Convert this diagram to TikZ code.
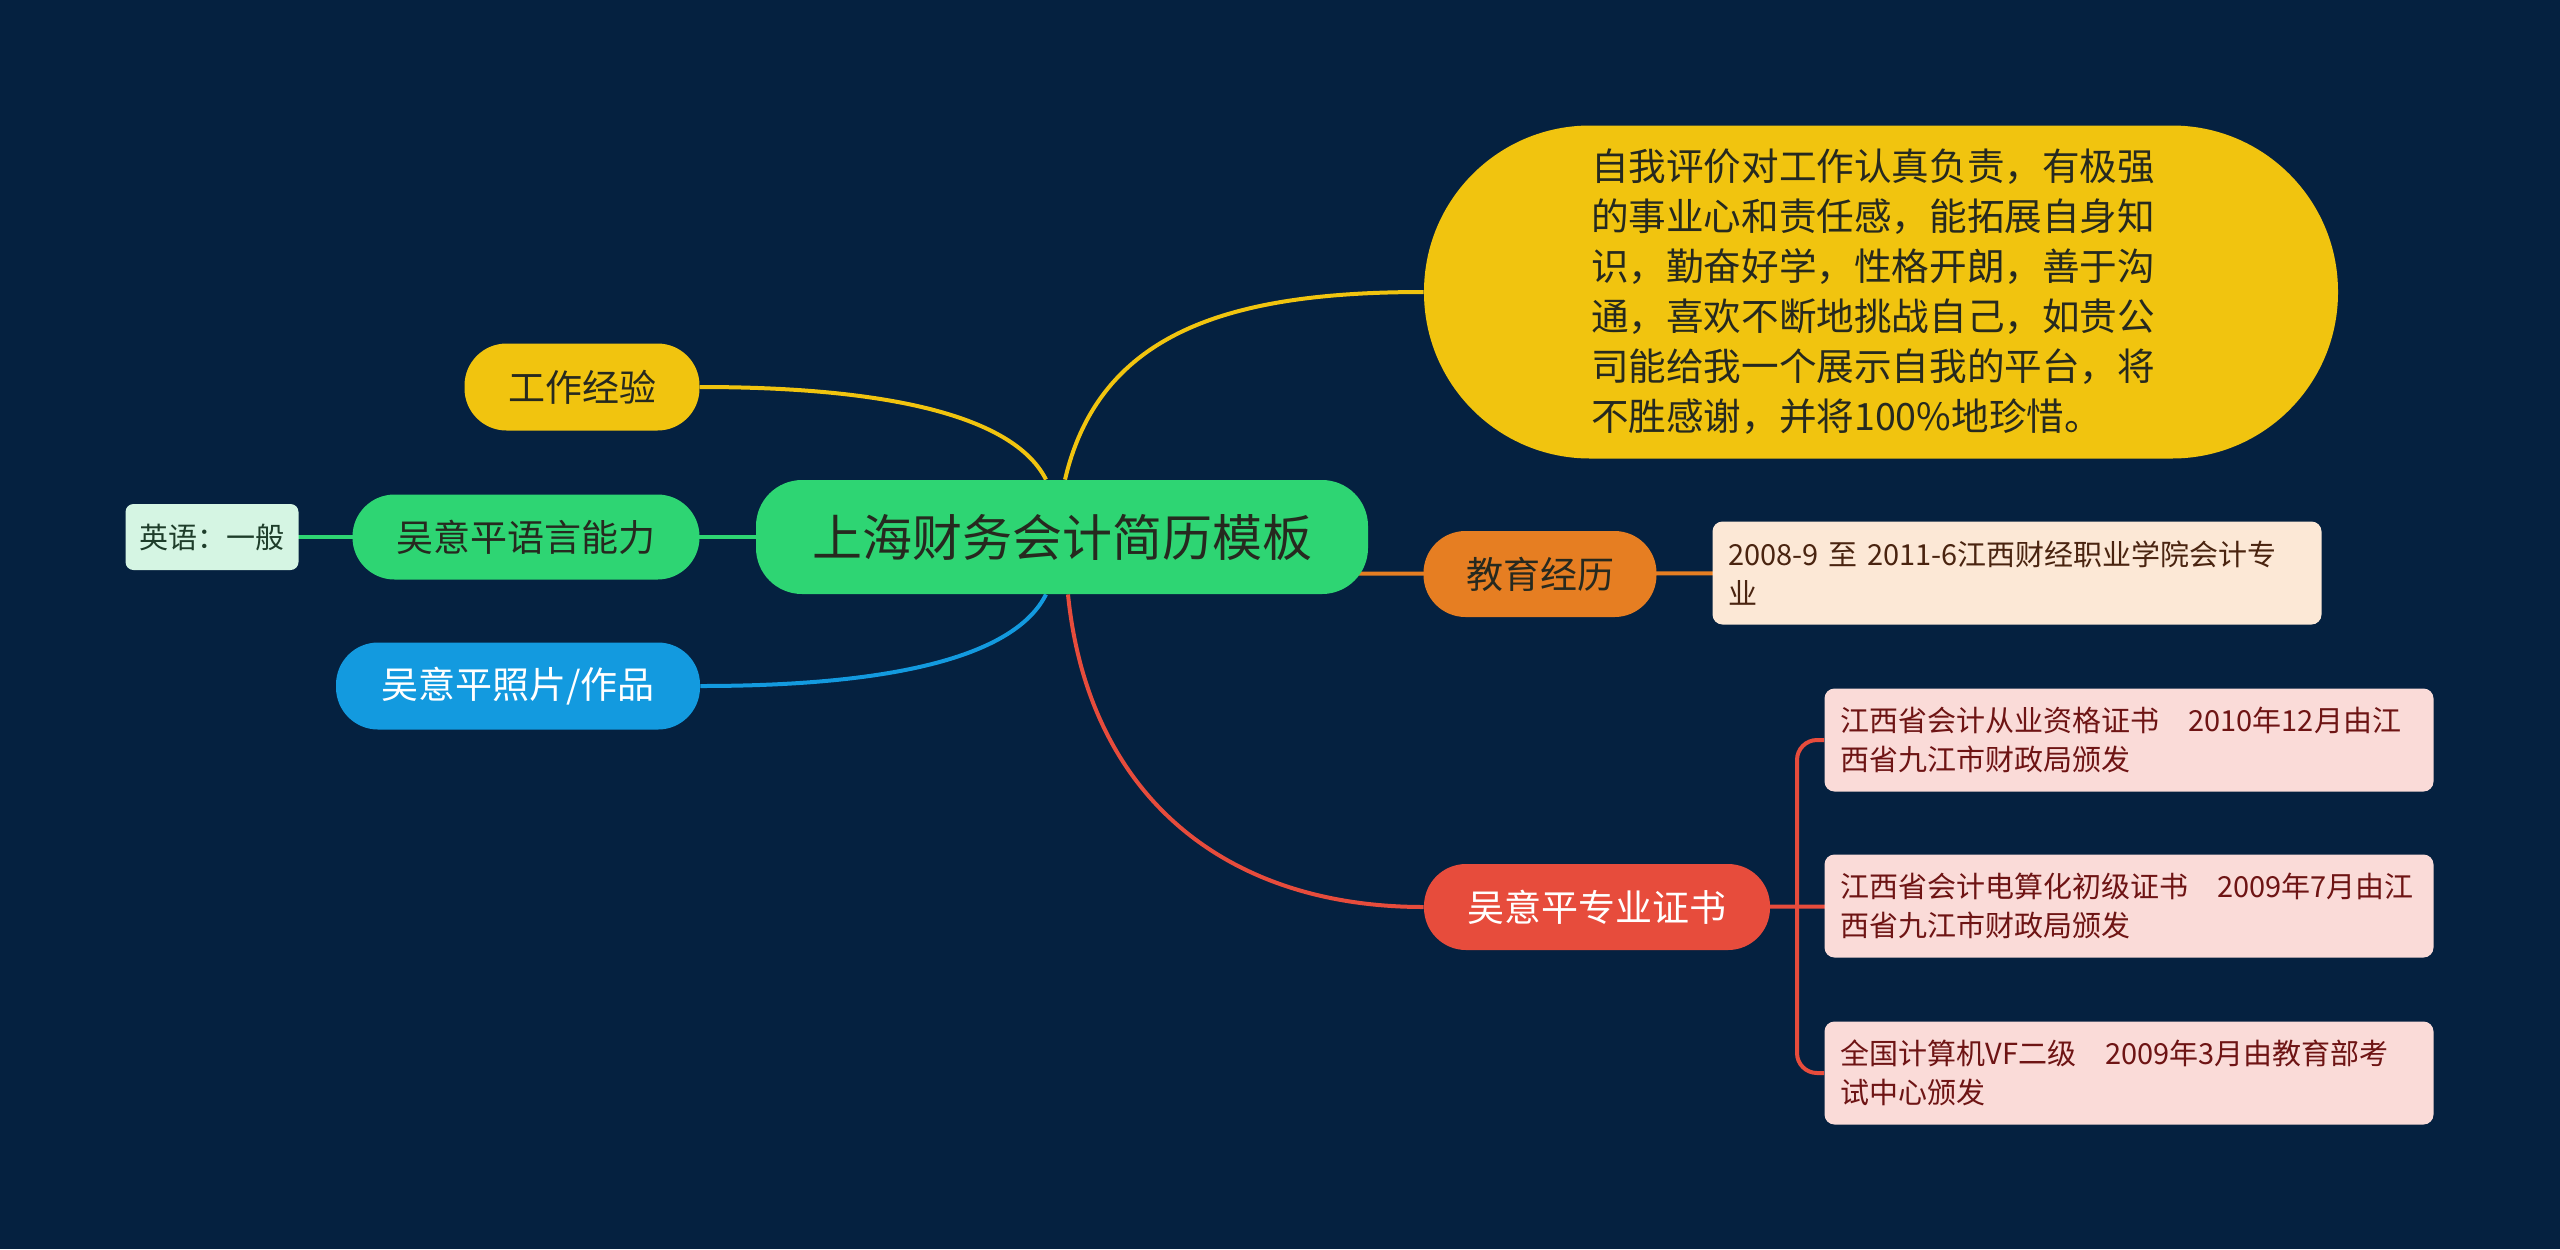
\documentclass[tikz,border=0pt]{standalone}
\usepackage{fontspec}
\setmainfont{Noto Sans CJK SC}
\usetikzlibrary{calc}
\pgfdeclarelayer{bg}
\pgfdeclarelayer{lines}
\pgfsetlayers{bg,lines,main}
\definecolor{cBg}{HTML}{052140}
\definecolor{cGreen}{HTML}{2ED573}
\definecolor{cYellow}{HTML}{F1C40F}
\definecolor{cBlue}{HTML}{139ADF}
\definecolor{cOrange}{HTML}{E67E22}
\definecolor{cRed}{HTML}{E74C3C}
\definecolor{cDark}{HTML}{26291F}
\definecolor{cEngFill}{HTML}{D5F5E3}
\definecolor{cEngText}{HTML}{1E3D2A}
\definecolor{cEduFill}{HTML}{FCE8D6}
\definecolor{cEduText}{HTML}{4A2410}
\definecolor{cCertFill}{HTML}{FADBD8}
\definecolor{cCertText}{HTML}{6E1414}
\begin{document}
\begin{tikzpicture}[x=0.5pt,y=-0.5pt,
  pill/.style={rounded corners=21pt, inner sep=0pt, align=center, font=\fontsize{18.5}{22}\selectfont},
  leaf/.style={rounded corners=5pt, inner xsep=8pt, inner ysep=0pt, align=left, minimum height=51.5pt, text width=288.5pt, font=\fontsize{14.5}{19.5}\selectfont},
  conn/.style={line width=2pt}
]
\useasboundingbox (0,0) rectangle (2560,1249);
\begin{pgfonlayer}{bg}
\fill[cBg] (0,0) rectangle (2560,1249);
\end{pgfonlayer}

% nodes
\node[pill, fill=cGreen, text=cDark, minimum width=306pt, minimum height=57pt, rounded corners=23pt, font=\fontsize{25}{30}\selectfont] (root) at (1062,537) {上海财务会计简历模板};
\node[pill, fill=cYellow, text=cDark, minimum width=117.5pt, minimum height=43.5pt] (work) at (582,387) {工作经验};
\node[pill, fill=cGreen, text=cDark, minimum width=173.5pt, minimum height=42.5pt] (lang) at (526,537) {吴意平语言能力};
\node[fill=cEngFill, text=cEngText, rounded corners=4pt, inner sep=0pt, minimum width=86.5pt, minimum height=33pt, font=\fontsize{14.5}{17}\selectfont] (eng) at (212,537) {英语：一般};
\node[pill, fill=cBlue, text=white, minimum width=182pt, minimum height=43.5pt] (photo) at (518,686) {吴意平照片/作品};
\node[fill=cYellow, text=cDark, rounded corners=83pt, minimum width=457pt, minimum height=166.5pt, text width=290pt, align=left, font=\fontsize{18.8}{25}\selectfont] (eval) at (1881,292) {自我评价对工作认真负责，有极强\\的事业心和责任感，能拓展自身知\\识，勤奋好学，性格开朗，善于沟\\通，喜欢不断地挑战自己，如贵公\\司能给我一个展示自我的平台，将\\不胜感谢，并将100\%地珍惜。};
\node[pill, fill=cOrange, text=cDark, minimum width=116.5pt, minimum height=43pt] (edu) at (1540,574) {教育经历};
\node[leaf, fill=cEduFill, text=cEduText] (edubox) at (2017,573) {2008-9 至 2011-6江西财经职业学院会计专\\业};
\node[pill, fill=cRed, text=white, minimum width=173pt, minimum height=43pt] (cert) at (1597,907) {吴意平专业证书};
\node[leaf, fill=cCertFill, text=cCertText] (c1) at (2129,740) {江西省会计从业资格证书\hspace{1em}2010年12月由江\\西省九江市财政局颁发};
\node[leaf, fill=cCertFill, text=cCertText] (c2) at (2129,906) {江西省会计电算化初级证书\hspace{1em}2009年7月由江\\西省九江市财政局颁发};
\node[leaf, fill=cCertFill, text=cCertText] (c3) at (2129,1073) {全国计算机VF二级\hspace{1em}2009年3月由教育部考\\试中心颁发};
\coordinate (fork) at (1797,907);

% connectors
\begin{pgfonlayer}{lines}
\draw[conn, cYellow] ([xshift=1.5pt]root.north) .. controls +(35,-150) and +(-190,0) .. (eval.west);
\draw[conn, cYellow] ([xshift=-8pt]root.north) .. controls +(-30,-60) and +(200,0) .. (work.east);
\draw[conn, cGreen] (root.center) -- (lang.center);
\draw[conn, cGreen] (lang.center) -- (eng.center);
\draw[conn, cBlue] ([xshift=-8pt]root.south) .. controls +(-30,60) and +(200,0) .. (photo.east);
\draw[conn, cOrange] (root.center |- edu.center) -- (edubox.center);
\draw[conn, cRed] ([xshift=3pt]root.south) .. controls +(20,200) and +(-200,0) .. (cert.west);
\draw[conn, cRed] (cert.center) -- (c2.center);
\draw[conn, cRed, rounded corners=10pt] (c1.west) -| (fork) |- (c3.west);
\end{pgfonlayer}
\end{tikzpicture}
\end{document}
